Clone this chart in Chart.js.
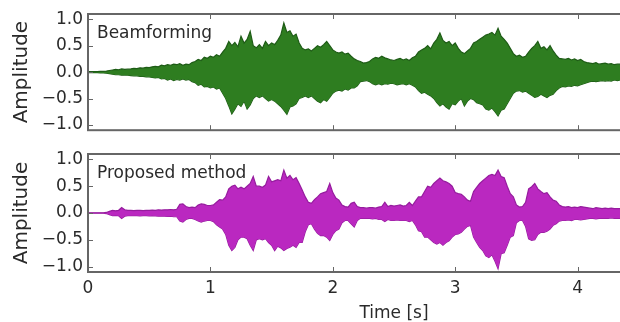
<!DOCTYPE html>
<html>
<head>
<meta charset="utf-8">
<script src="https://cdn.jsdelivr.net/npm/chart.js@4/dist/chart.umd.min.js"></script>
<style>
  html, body { margin: 0; padding: 0; background: #fff; overflow: hidden; width: 620px; height: 322px; }
  #wrap { position: relative; width: 620px; height: 322px; overflow: hidden; }
  canvas { position: absolute; left: 0; }
  #c1 { top: 0; }
  #c2 { top: 140px; }
</style>
</head>
<body>
<div id="wrap">
  <canvas id="c1" width="700" height="142"></canvas>
  <canvas id="c2" width="700" height="182"></canvas>
</div>
<script>
// ---------------- data (envelope of each waveform, sampled every 25 ms) ----------------
const sampleStep = 0.025; // seconds between envelope samples
const panelLabels = ["Beamforming", "Proposed method"];
const xTicks = [0, 1, 2, 3, 4];
const yTicks = [-1.0, -0.5, 0.0, 0.5, 1.0];
const xTitle = "Time [s]";
const yTitle = "Amplitude";

const beamUpper = [
  0.01,0.01,0.01,0.01,0.015,0.015,0.02,0.03,
  0.04,0.05,0.045,0.06,0.05,0.055,0.06,0.07,
  0.065,0.08,0.075,0.09,0.085,0.1,0.11,0.1,
  0.13,0.12,0.14,0.13,0.15,0.14,0.16,0.13,
  0.15,0.14,0.18,0.2,0.24,0.22,0.28,0.26,
  0.3,0.28,0.33,0.3,0.38,0.45,0.58,0.5,
  0.56,0.48,0.68,0.55,0.62,0.77,0.5,0.46,
  0.52,0.45,0.58,0.5,0.55,0.52,0.6,0.7,
  0.93,0.75,0.78,0.68,0.72,0.55,0.45,0.42,
  0.44,0.4,0.45,0.5,0.47,0.52,0.58,0.5,
  0.42,0.38,0.36,0.38,0.34,0.36,0.3,0.25,
  0.22,0.2,0.17,0.18,0.2,0.25,0.28,0.26,
  0.3,0.27,0.25,0.23,0.22,0.24,0.26,0.23,
  0.25,0.22,0.27,0.3,0.38,0.42,0.45,0.5,
  0.44,0.55,0.62,0.74,0.6,0.55,0.58,0.5,
  0.55,0.45,0.38,0.35,0.4,0.45,0.55,0.58,
  0.62,0.66,0.7,0.72,0.75,0.7,0.83,0.68,
  0.62,0.55,0.45,0.35,0.3,0.32,0.28,0.3,
  0.38,0.45,0.5,0.58,0.45,0.48,0.42,0.5,
  0.4,0.32,0.26,0.25,0.24,0.26,0.23,0.25,
  0.22,0.24,0.2,0.18,0.17,0.16,0.18,0.15,
  0.16,0.17,0.15,0.16,0.14,0.15,0.15
];
const beamLower = [
  -0.01,-0.01,-0.01,-0.01,-0.015,-0.015,-0.02,-0.03,
  -0.04,-0.05,-0.05,-0.06,-0.055,-0.06,-0.065,-0.07,
  -0.07,-0.08,-0.08,-0.09,-0.09,-0.1,-0.11,-0.1,
  -0.13,-0.12,-0.15,-0.13,-0.16,-0.14,-0.15,-0.13,
  -0.15,-0.14,-0.18,-0.2,-0.25,-0.23,-0.28,-0.27,
  -0.3,-0.28,-0.32,-0.3,-0.4,-0.5,-0.64,-0.79,
  -0.7,-0.6,-0.65,-0.55,-0.7,-0.62,-0.5,-0.45,
  -0.48,-0.45,-0.5,-0.55,-0.52,-0.55,-0.6,-0.65,
  -0.72,-0.8,-0.66,-0.64,-0.6,-0.5,-0.48,-0.45,
  -0.48,-0.45,-0.5,-0.55,-0.58,-0.52,-0.55,-0.48,
  -0.4,-0.36,-0.34,-0.36,-0.32,-0.34,-0.3,-0.3,
  -0.26,-0.18,-0.17,-0.16,-0.18,-0.22,-0.24,-0.22,
  -0.24,-0.22,-0.23,-0.21,-0.22,-0.24,-0.23,-0.22,
  -0.24,-0.22,-0.25,-0.28,-0.35,-0.4,-0.38,-0.42,
  -0.45,-0.5,-0.58,-0.64,-0.6,-0.66,-0.7,-0.6,
  -0.62,-0.55,-0.5,-0.64,-0.55,-0.5,-0.52,-0.58,
  -0.6,-0.62,-0.7,-0.72,-0.68,-0.75,-0.83,-0.72,
  -0.7,-0.6,-0.5,-0.4,-0.36,-0.35,-0.38,-0.36,
  -0.4,-0.44,-0.48,-0.46,-0.42,-0.45,-0.48,-0.44,
  -0.42,-0.35,-0.3,-0.27,-0.28,-0.26,-0.27,-0.25,
  -0.26,-0.24,-0.22,-0.2,-0.18,-0.17,-0.18,-0.17,
  -0.16,-0.17,-0.16,-0.17,-0.15,-0.16,-0.15
];
const propUpper = [
  0.005,0.005,0.005,0.005,0.005,0.005,0.01,0.03,
  0.05,0.04,0.05,0.1,0.06,0.05,0.05,0.045,
  0.05,0.05,0.045,0.05,0.05,0.055,0.05,0.06,
  0.055,0.06,0.06,0.065,0.06,0.07,0.16,0.17,
  0.12,0.1,0.11,0.1,0.15,0.17,0.16,0.14,
  0.14,0.15,0.2,0.25,0.24,0.3,0.45,0.5,
  0.52,0.45,0.48,0.45,0.5,0.55,0.68,0.5,
  0.5,0.48,0.52,0.68,0.58,0.6,0.62,0.6,
  0.8,0.65,0.7,0.62,0.66,0.55,0.43,0.3,
  0.2,0.18,0.25,0.3,0.36,0.38,0.4,0.55,
  0.38,0.28,0.24,0.15,0.12,0.11,0.18,0.2,
  0.12,0.1,0.1,0.09,0.1,0.1,0.09,0.11,
  0.12,0.2,0.12,0.14,0.13,0.14,0.15,0.13,
  0.14,0.2,0.14,0.22,0.3,0.3,0.4,0.5,
  0.48,0.55,0.6,0.65,0.6,0.58,0.55,0.5,
  0.38,0.36,0.35,0.3,0.24,0.22,0.4,0.48,
  0.55,0.6,0.65,0.7,0.72,0.7,0.8,0.68,
  0.66,0.5,0.36,0.3,0.15,0.11,0.12,0.2,
  0.45,0.49,0.55,0.45,0.4,0.36,0.38,0.3,
  0.24,0.22,0.15,0.12,0.11,0.12,0.1,0.11,
  0.1,0.12,0.11,0.1,0.09,0.08,0.1,0.09,
  0.08,0.09,0.08,0.09,0.08,0.08,0.08
];
const propLower = [
  -0.005,-0.005,-0.005,-0.005,-0.005,-0.005,-0.01,-0.03,
  -0.05,-0.045,-0.05,-0.1,-0.06,-0.05,-0.05,-0.05,
  -0.05,-0.055,-0.05,-0.05,-0.055,-0.05,-0.055,-0.06,
  -0.06,-0.06,-0.065,-0.06,-0.07,-0.07,-0.15,-0.17,
  -0.12,-0.1,-0.1,-0.12,-0.15,-0.17,-0.15,-0.14,
  -0.14,-0.16,-0.22,-0.26,-0.3,-0.4,-0.6,-0.7,
  -0.64,-0.5,-0.45,-0.45,-0.48,-0.6,-0.7,-0.5,
  -0.48,-0.5,-0.48,-0.55,-0.6,-0.7,-0.62,-0.65,
  -0.7,-0.66,-0.64,-0.6,-0.64,-0.55,-0.55,-0.35,
  -0.22,-0.2,-0.3,-0.38,-0.42,-0.42,-0.45,-0.51,
  -0.4,-0.33,-0.3,-0.18,-0.14,-0.14,-0.2,-0.26,
  -0.14,-0.1,-0.1,-0.1,-0.1,-0.11,-0.1,-0.12,
  -0.12,-0.16,-0.12,-0.14,-0.14,-0.13,-0.14,-0.14,
  -0.14,-0.16,-0.14,-0.22,-0.33,-0.35,-0.45,-0.45,
  -0.5,-0.55,-0.58,-0.55,-0.6,-0.55,-0.52,-0.45,
  -0.4,-0.39,-0.36,-0.3,-0.25,-0.23,-0.45,-0.55,
  -0.64,-0.7,-0.8,-0.83,-0.78,-0.9,-1.04,-0.76,
  -0.74,-0.6,-0.45,-0.42,-0.18,-0.14,-0.14,-0.25,
  -0.48,-0.51,-0.5,-0.4,-0.36,-0.36,-0.34,-0.3,
  -0.23,-0.2,-0.15,-0.14,-0.14,-0.13,-0.14,-0.12,
  -0.12,-0.13,-0.12,-0.11,-0.1,-0.1,-0.11,-0.1,
  -0.1,-0.1,-0.1,-0.09,-0.1,-0.1,-0.1
];

// ---------------- chart building ----------------
const sampleTimes = beamUpper.map((_, i) => +(i * sampleStep).toFixed(3));
const toPoints = arr => arr.map((v, i) => ({ x: sampleTimes[i], y: v }));

const FONT = "'DejaVu Sans', sans-serif";
const TEXT = '#2a2a2a';
const FRAME = '#666666';

const framePlugin = {
  id: 'frame',
  afterDatasetsDraw(chart, args, opts) {
    const { ctx, chartArea: { left, top, right, bottom }, scales: { x, y } } = chart;
    ctx.save();
    ctx.strokeStyle = FRAME;
    ctx.lineWidth = 2;
    ctx.strokeRect(left, top, right - left, bottom - top);
    ctx.lineWidth = 1;
    ctx.beginPath();
    xTicks.forEach(v => {
      const px = Math.round(x.getPixelForValue(v)) + 0.5;
      ctx.moveTo(px, top); ctx.lineTo(px, top + 5);
      ctx.moveTo(px, bottom); ctx.lineTo(px, bottom - 5);
    });
    yTicks.forEach(v => {
      const py = Math.round(y.getPixelForValue(v)) + 0.5;
      ctx.moveTo(left, py); ctx.lineTo(left + 5, py);
      ctx.moveTo(right, py); ctx.lineTo(right - 5, py);
    });
    ctx.stroke();
    // panel label
    ctx.fillStyle = TEXT;
    ctx.font = "17px " + FONT;
    ctx.textAlign = 'left';
    ctx.textBaseline = 'alphabetic';
    ctx.fillText(opts.label, left + 9, top + 24);
    ctx.restore();
  }
};

function makeChart(canvasId, upper, lower, fillColor, edgeColor, label, showX) {
  return new Chart(document.getElementById(canvasId), {
    type: 'line',
    data: {
      datasets: [
        { data: toPoints(upper), borderColor: edgeColor, backgroundColor: fillColor,
          borderWidth: 1.2, pointRadius: 0, tension: 0, fill: '+1' },
        { data: toPoints(lower), borderColor: edgeColor, backgroundColor: fillColor,
          borderWidth: 1.2, pointRadius: 0, tension: 0, fill: false }
      ]
    },
    options: {
      responsive: false,
      animation: false,
      devicePixelRatio: 1,
      layout: { padding: { top: 14, bottom: 0, left: 0, right: 0 } },
      plugins: { legend: { display: false }, tooltip: { enabled: false }, frame: { label } },
      scales: {
        x: {
          type: 'linear', min: 0, max: 5.0,
          display: showX,
          afterBuildTicks: s => { s.ticks = xTicks.map(v => ({ value: v })); },
          afterFit: s => { s.height = showX ? 50 : 0; },
          grid: { display: false, drawTicks: false },
          border: { display: false },
          ticks: { color: TEXT, font: { family: FONT, size: 17 }, padding: 6, autoSkip: false,
                   maxRotation: 0, callback: v => String(v) },
          title: { display: true, text: xTitle, color: TEXT,
                   font: { family: FONT, size: 17, lineHeight: 1.0 }, padding: { top: 0, bottom: 0 } }
        },
        y: {
          type: 'linear', min: -1.1, max: 1.1,
          afterBuildTicks: s => { s.ticks = yTicks.map(v => ({ value: v })); },
          afterFit: s => { s.width = 88; },
          grid: { display: false, drawTicks: false },
          border: { display: false },
          ticks: { color: TEXT, font: { family: FONT, size: 17, lineHeight: 0.8 }, padding: 5, autoSkip: false,
                   callback: v => (v < 0 ? '\u2212' : '') + Math.abs(v).toFixed(1) },
          title: { display: true, text: yTitle, color: TEXT,
                   font: { family: FONT, size: 20 }, padding: { top: 10, bottom: 0 } }
        }
      }
    },
    plugins: [framePlugin]
  });
}

makeChart('c1', beamUpper, beamLower, 'rgb(46,125,32)', 'rgb(30,92,22)', panelLabels[0], false);
makeChart('c2', propUpper, propLower, 'rgb(186,40,192)', 'rgb(150,28,158)', panelLabels[1], true);
</script>
</body>
</html>
